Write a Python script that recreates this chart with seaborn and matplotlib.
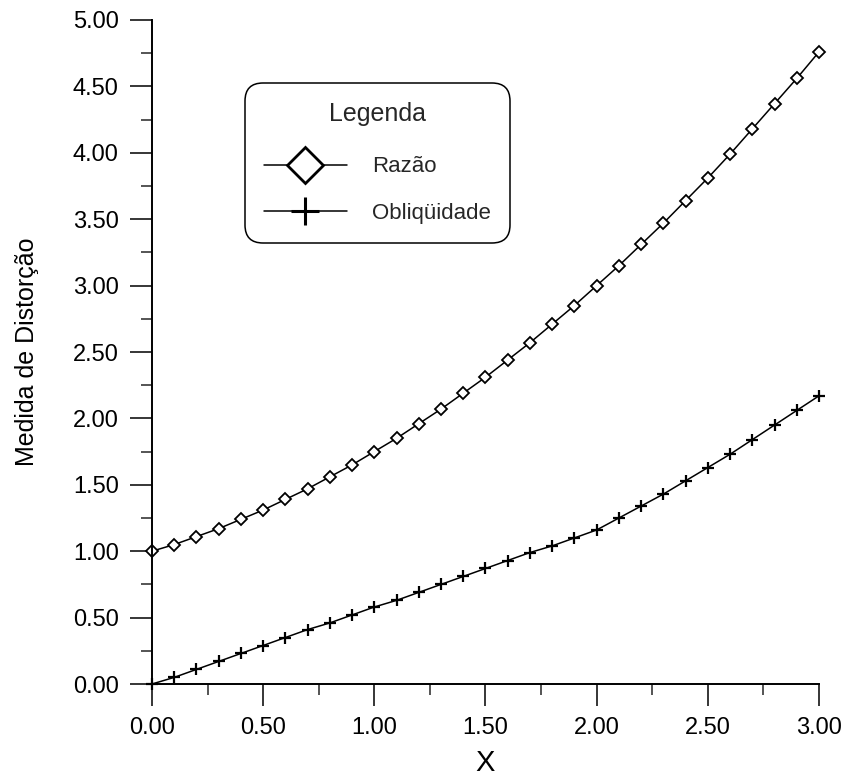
import seaborn as sns
import matplotlib.pyplot as plt
import pandas as pd
from matplotlib.ticker import MultipleLocator, FormatStrFormatter

# valores
x_vals = [0.0, 0.1, 0.2, 0.3, 0.4, 0.5, 0.6, 0.7, 0.8, 0.9, 1.0,
          1.1, 1.2, 1.3, 1.4, 1.5, 1.6, 1.7, 1.8, 1.9, 2.0,
          2.1, 2.2, 2.3, 2.4, 2.5, 2.6, 2.7, 2.8, 2.9, 3.0]
razao = [1.00, 1.05, 1.11, 1.17, 1.24, 1.31, 1.39, 1.47, 1.56, 1.65, 1.75,
         1.85, 1.96, 2.07, 2.19, 2.31, 2.44, 2.57, 2.71, 2.85, 3.00,
         3.15, 3.31, 3.47, 3.64, 3.81, 3.99, 4.18, 4.37, 4.56, 4.76]
obliquidade = [0.00, 0.05, 0.11, 0.17, 0.23, 0.29, 0.35, 0.41, 0.46, 0.52, 0.58,
               0.63, 0.69, 0.75, 0.81, 0.87, 0.93, 0.99, 1.04, 1.10, 1.16,
               1.25, 1.34, 1.43, 1.53, 1.63, 1.73, 1.84, 1.95, 2.06, 2.17]

df = pd.DataFrame({'X': x_vals, 'Razão': razao, 'Obliqüidade': obliquidade})

sns.set_theme(style="ticks")
plt.rcParams['font.family'] = ['Liberation Sans', 'DejaVu Sans']

fig = plt.figure(figsize=(8.48, 7.78), dpi=100)
ax = fig.add_axes([0.1792, 0.1208, 0.7866, 0.8535])

sns.lineplot(data=df, x='X', y='Razão', ax=ax, color='black', linewidth=1.1,
             marker='D', markersize=6.5, markerfacecolor='white',
             markeredgecolor='black', markeredgewidth=1.3, label='Razão',
             clip_on=False)
sns.lineplot(data=df, x='X', y='Obliqüidade', ax=ax, color='black', linewidth=1.1,
             marker='+', markersize=9, markeredgewidth=1.6,
             markeredgecolor='black', label='Obliqüidade', clip_on=False)

ax.set_xlim(0, 3)
ax.set_ylim(0, 5)
ax.xaxis.set_major_locator(MultipleLocator(0.5))
ax.xaxis.set_minor_locator(MultipleLocator(0.25))
ax.yaxis.set_major_locator(MultipleLocator(0.5))
ax.yaxis.set_minor_locator(MultipleLocator(0.25))
ax.xaxis.set_major_formatter(FormatStrFormatter('%.2f'))
ax.yaxis.set_major_formatter(FormatStrFormatter('%.2f'))

ax.tick_params(axis='both', which='major', direction='out', length=16, width=1.1,
               labelsize=17, pad=8, colors='black')
ax.tick_params(axis='both', which='minor', direction='out', length=8, width=1.1)

for side in ['top', 'right']:
    ax.spines[side].set_visible(False)
for side in ['left', 'bottom']:
    ax.spines[side].set_color('black')
    ax.spines[side].set_linewidth(1.4)

ax.set_xlabel("X", fontsize=21, labelpad=7, color='black')
ax.set_ylabel("Medida de Distorção", fontsize=18, labelpad=24, color='black')

# legenda com caixa arredondada
leg = ax.legend(title="Legenda", loc='upper left', bbox_to_anchor=(0.1435, 0.902),
                borderaxespad=0, fontsize=16, title_fontsize=18,
                handlelength=3.7, labelspacing=1.15,
                handletextpad=1.15, borderpad=0.75, fancybox=True,
                frameon=True, framealpha=1, edgecolor='black')
leg.get_frame().set_linewidth(1.1)
leg.get_frame().set_boxstyle('round,pad=0.1,rounding_size=0.8')
leg._legend_box.sep = 22
handles = leg.legend_handles
handles[0].set_markersize(18)
handles[0].set_markeredgewidth(2)
handles[1].set_markersize(20)
handles[1].set_markeredgewidth(2.2)

fig.savefig("out.png", dpi=100)
